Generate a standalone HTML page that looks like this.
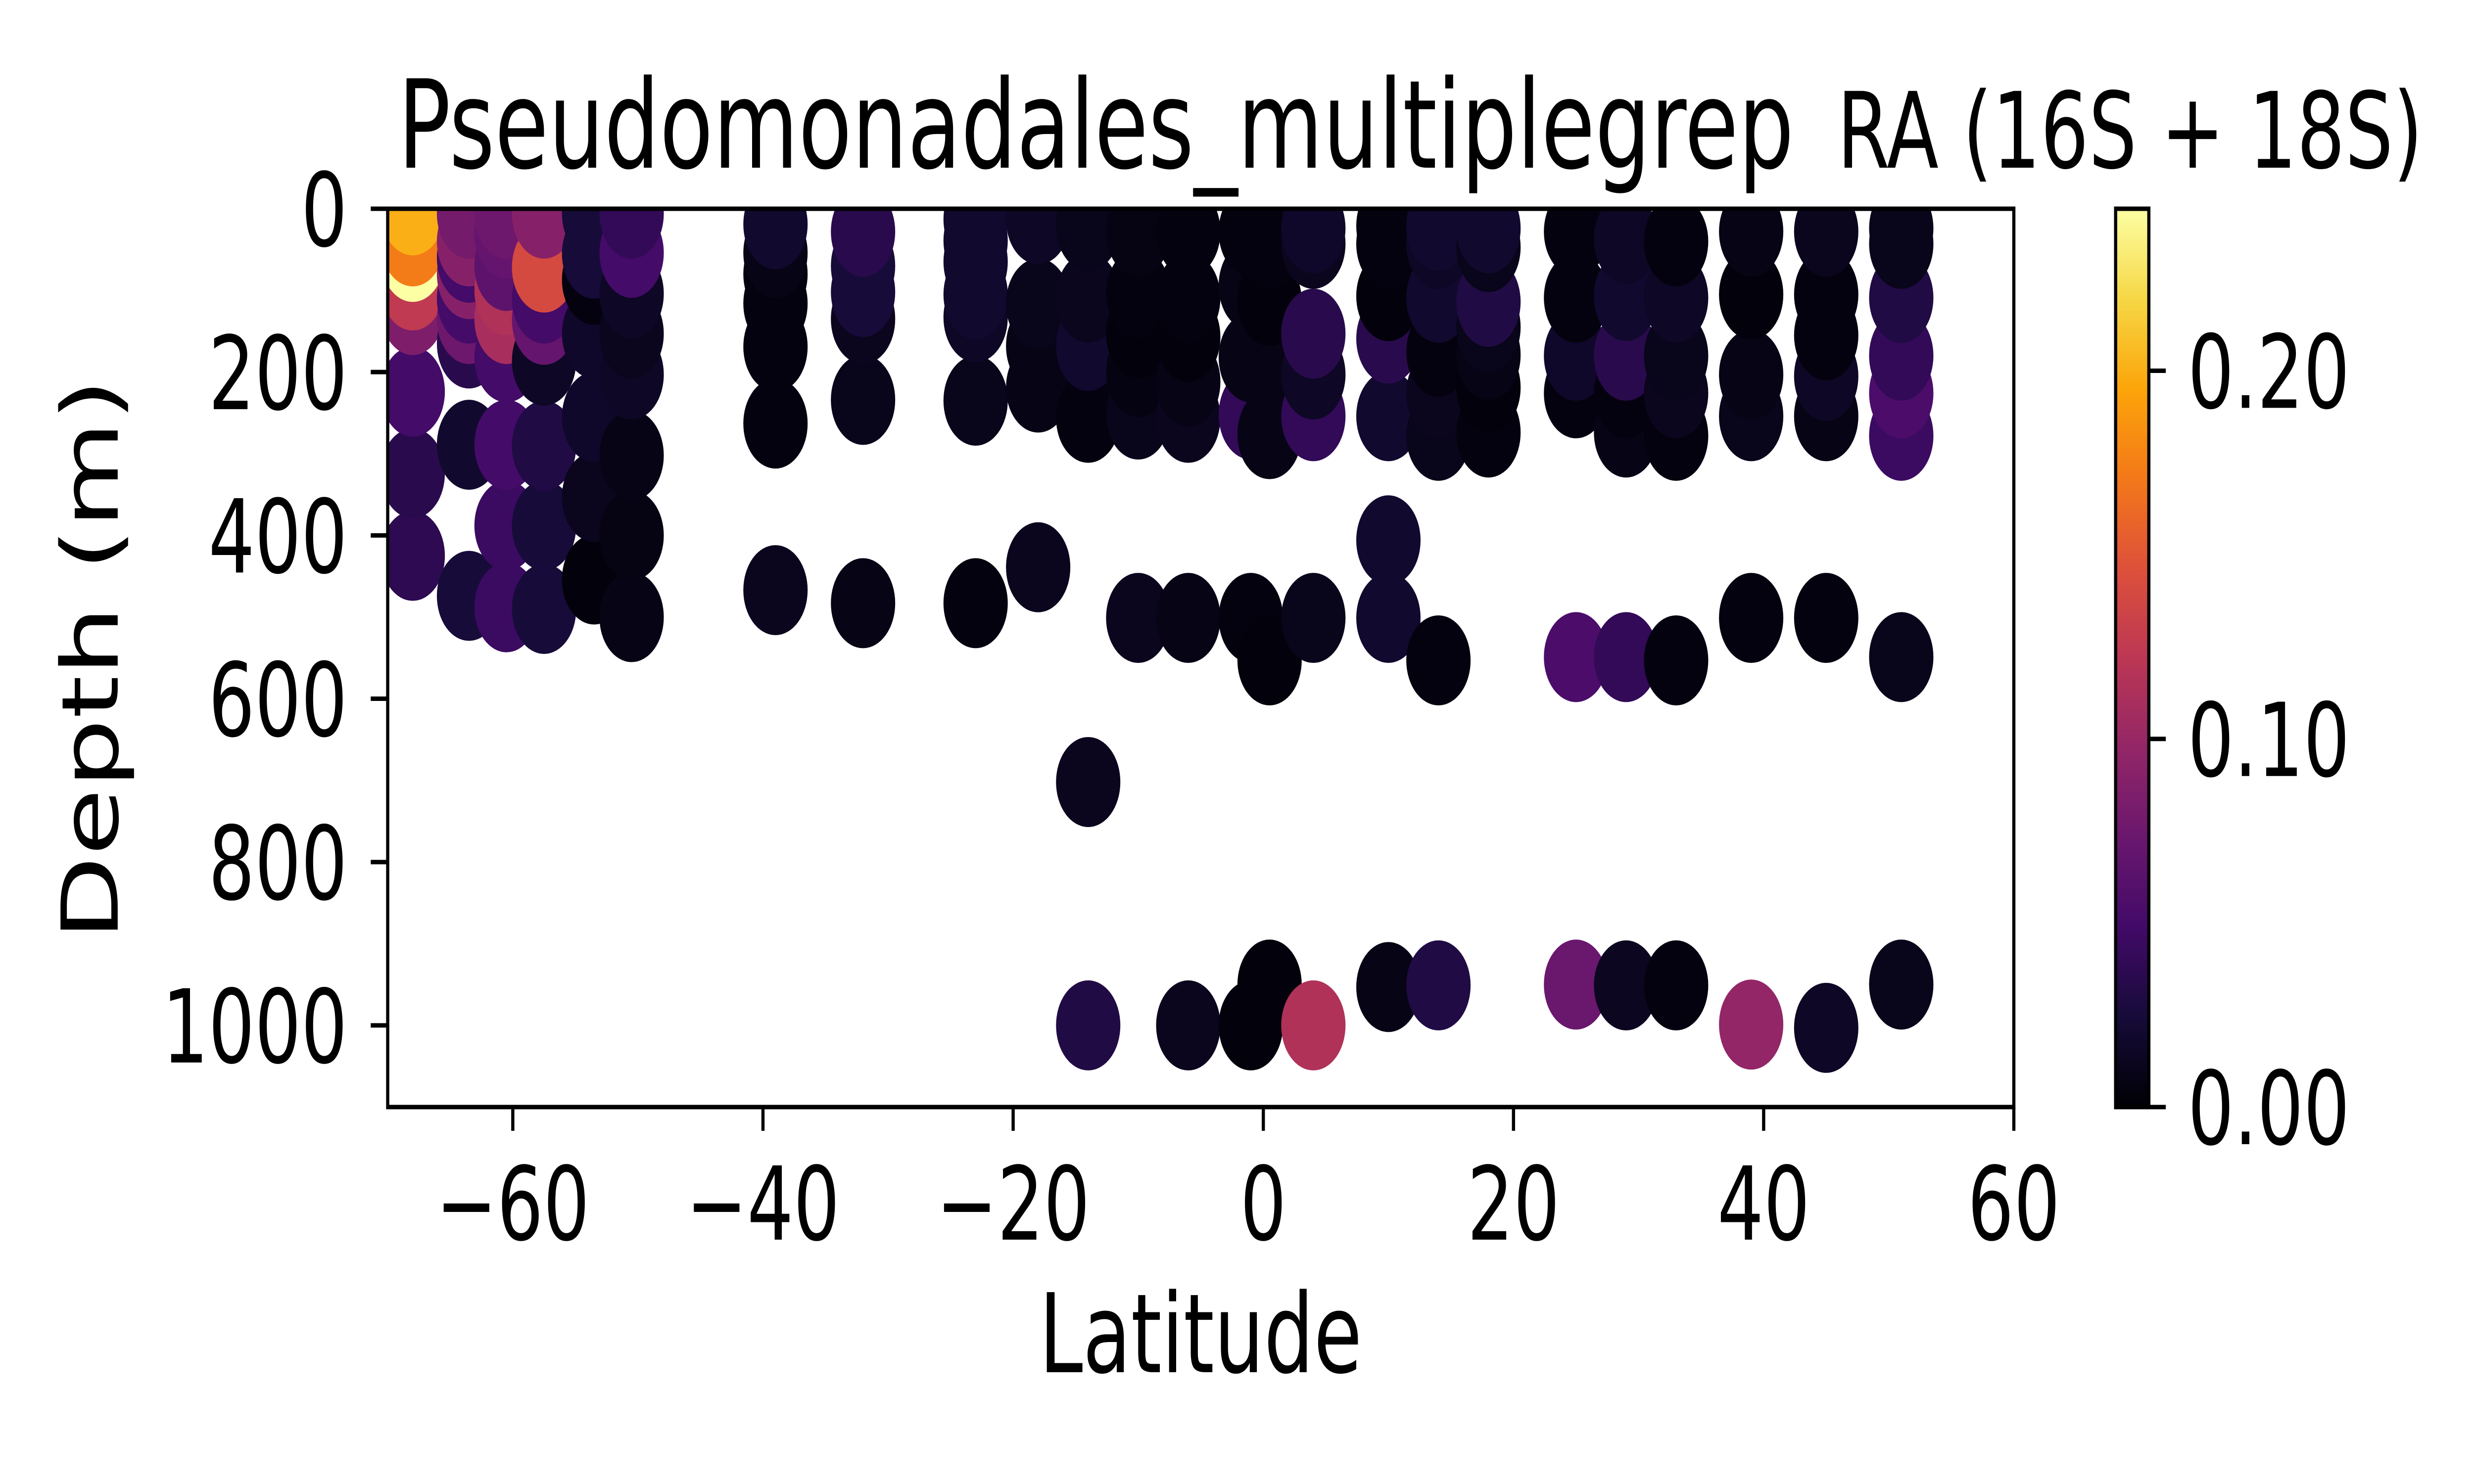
<!DOCTYPE html>
<html><head><meta charset="utf-8"><style>
html,body{margin:0;padding:0;background:#fff;width:100%;height:100%;overflow:hidden;}
svg{display:block;width:100vw;height:100vh;font-family:"DejaVu Sans","Liberation Sans",sans-serif;}
</style></head>
<body>
<svg id="chart" xmlns="http://www.w3.org/2000/svg" viewBox="0 0 7000 3000" preserveAspectRatio="none" overflow="hidden">
<rect width="7000" height="3000" fill="#fff"/>
<defs>
<linearGradient id="infernoGrad" x1="0" y1="1" x2="0" y2="0">
<stop offset="0" stop-color="#000004"/><stop offset="0.1" stop-color="#160b39"/><stop offset="0.2" stop-color="#420a68"/><stop offset="0.3" stop-color="#6a176e"/><stop offset="0.4" stop-color="#932667"/><stop offset="0.5" stop-color="#bc3754"/><stop offset="0.6" stop-color="#dd513a"/><stop offset="0.7" stop-color="#f37819"/><stop offset="0.8" stop-color="#fca50a"/><stop offset="0.9" stop-color="#f6d746"/><stop offset="1" stop-color="#fcffa4"/>
</linearGradient>
<clipPath id="plotClip"><rect x="1097" y="422" width="4601" height="1816"/></clipPath>
</defs>
<text x="1126" y="339" font-size="248" textLength="3950" lengthAdjust="spacingAndGlyphs">Pseudomonadales_multiplegrep</text>
<text x="5198" y="339" font-size="213" textLength="1657" lengthAdjust="spacingAndGlyphs">RA (16S + 18S)</text>
<g id="points" clip-path="url(#plotClip)"></g>
<rect x="1097" y="422" width="4601" height="1816" fill="none" stroke="#000" stroke-width="9"/>
<g id="xaxis"></g>
<g id="yaxis"></g>
<text x="3397" y="2774" font-size="222" text-anchor="middle">Latitude</text>
<text transform="translate(333,1333) rotate(-90)" font-size="222" text-anchor="middle">Depth (m)</text>
<rect x="5986" y="422" width="94" height="1816" fill="url(#infernoGrad)" stroke="#000" stroke-width="9"/>
<g id="cbaxis"></g>
</svg>
<script>
const lats = [-68,-68,-68,-68,-68,-68,-68,-68,
-63.5,-63.5,-63.5,-63.5,-63.5,-63.5,-63.5,-63.5,-63.5,
-60.5,-60.5,-60.5,-60.5,-60.5,-60.5,-60.5,-60.5,-60.5,
-57.5,-57.5,-57.5,-57.5,-57.5,-57.5,-57.5,-57.5,
-53.5,-53.5,-53.5,-53.5,-53.5,-53.5,-53.5,
-50.5,-50.5,-50.5,-50.5,-50.5,-50.5,-50.5,-50.5,
-39,-39,-39,-39,-39,-39,-39,
-32,-32,-32,-32,-32,-32,
-23,-23,-23,-23,-23,-23,-23,
-18,-18,-18,-18,-18,
-14,-14,-14,-14,-14,-14,
-10,-10,-10,-10,-10,-10,
-6,-6,-6,-6,-6,-6,-6,
-1,-1,-1,-1,-1,-1,
0.5,0.5,0.5,0.5,0.5,0.5,
4,4,4,4,4,4,4,
10,10,10,10,10,10,10,10,
14,14,14,14,14,14,14,14,
18,18,18,18,18,18,18,
25,25,25,25,25,25,
29,29,29,29,29,29,29,
33,33,33,33,33,33,33,
39,39,39,39,39,39,
45,45,45,45,45,45,45,
51,51,51,51,51,51,51,51];
const depths = [425,324,224,124,94,59,40,2,
474,289,165,135,110,80,60,40,6,
488,388,289,182,135,100,70,30,6,
490,388,290,186,136,110,72,6,
454,353,255,153,87,55,6,
500,400,302,203,153,104,54,6,
467,263,169,116,80,54,19,
483,234,135,102,70,28,
483,235,133,105,65,39,13,
439,219,168,116,13,
1000,702,256,168,109,21,
501,252,200,153,104,28,
1000,501,256,212,157,109,28,
1000,501,252,182,94,28,
950,553,276,182,113,43,
1000,501,254,203,153,43,24,
953,501,406,254,159,107,43,21,
951,553,278,226,175,109,43,21,
274,219,179,145,114,47,24,
950,549,226,180,109,28,
951,549,274,226,180,107,37,
951,553,278,226,180,109,40,
999,501,254,203,105,28,
1003,501,254,205,155,105,28,
950,549,278,226,180,109,43,24];
const values = [0.037,0.035,0.05,0.085,0.125,0.244,0.173,0.2,
0.025,0.02,0.035,0.075,0.05,0.09,0.05,0.09,0.08,
0.045,0.045,0.05,0.05,0.11,0.115,0.065,0.07,0.075,
0.025,0.025,0.03,0.015,0.07,0.05,0.14,0.09,
0.003,0.012,0.018,0.018,0.005,0.025,0.025,
0.008,0.007,0.008,0.015,0.012,0.015,0.05,0.04,
0.012,0.005,0.005,0.005,0.005,0.008,0.02,
0.008,0.01,0.012,0.025,0.025,0.035,
0.005,0.01,0.015,0.02,0.02,0.02,0.02,
0.012,0.008,0.008,0.01,0.015,
0.03,0.012,0.005,0.02,0.012,0.01,
0.012,0.01,0.006,0.003,0.005,0.007,
0.012,0.008,0.012,0.008,0.003,0.005,0.005,
0.003,0.005,0.04,0.008,0.008,0.005,
0.003,0.003,0.008,0.008,0.003,0.005,
0.115,0.01,0.04,0.015,0.035,0.012,0.018,
0.008,0.02,0.02,0.02,0.035,0.003,0.005,0.005,
0.03,0.005,0.01,0.012,0.005,0.02,0.015,0.02,
0.005,0.003,0.008,0.01,0.03,0.01,0.02,
0.073,0.054,0.005,0.018,0.005,0.005,
0.013,0.04,0.008,0.005,0.035,0.02,0.015,
0.005,0.005,0.005,0.012,0.01,0.015,0.005,
0.097,0.005,0.01,0.008,0.003,0.008,
0.015,0.005,0.008,0.015,0.005,0.005,0.012,
0.01,0.01,0.045,0.055,0.04,0.03,0.01,0.01];
const xTicks = [-60,-40,-20,0,20,40,60];
const yTicks = [0,200,400,600,800,1000];
const cTicks = [0,0.1,0.2];
const cTickLabels = ["0.00","0.10","0.20"];

const X0=1097,X1=5698,Y0=422,Y1=2238,XMIN=-70,XMAX=60,DMAX=1100,VMAX=0.244;
const xs = v => X0 + (v - XMIN) / (XMAX - XMIN) * (X1 - X0);
const ys = d => Y0 + d / DMAX * (Y1 - Y0);
const cs = v => Y1 - v / VMAX * (Y1 - Y0);
const stops = ["#000004","#160b39","#420a68","#6a176e","#932667","#bc3754","#dd513a","#f37819","#fca50a","#f6d746","#fcffa4"];
function hex(h){return [1,3,5].map(i=>parseInt(h.substr(i,2),16));}
function inferno(v){
  let t=Math.max(0,Math.min(1,v/VMAX))*10;
  let i=Math.min(9,Math.floor(t)),f=t-i;
  const a=hex(stops[i]),b=hex(stops[i+1]);
  return "rgb("+a.map((c,k)=>Math.round(c+(b[k]-c)*f)).join(",")+")";
}
const NS="http://www.w3.org/2000/svg";
const gp=document.getElementById("points");
for(let i=0;i<lats.length;i++){
  const c=document.createElementNS(NS,"circle");
  c.setAttribute("cx",xs(lats[i]));
  c.setAttribute("cy",ys(depths[i]));
  c.setAttribute("r",91);
  c.setAttribute("fill",inferno(values[i]));
  
  
  gp.appendChild(c);
}
const gx=document.getElementById("xaxis");
xTicks.forEach(v=>{
  const l=document.createElementNS(NS,"line");
  l.setAttribute("x1",xs(v));l.setAttribute("x2",xs(v));
  l.setAttribute("y1",Y1);l.setAttribute("y2",Y1+48);
  l.setAttribute("stroke","#000");l.setAttribute("stroke-width",9);
  
  
  gx.appendChild(l);
  const t=document.createElementNS(NS,"text");
  t.setAttribute("x",xs(v));t.setAttribute("y",2506);
  t.setAttribute("font-size",206);t.setAttribute("text-anchor","middle");
  t.textContent=(v<0?"\u2212":"")+Math.abs(v);
  
  
  gx.appendChild(t);
});
const gy=document.getElementById("yaxis");
yTicks.forEach(v=>{
  const l=document.createElementNS(NS,"line");
  l.setAttribute("x1",X0-48);l.setAttribute("x2",X0);
  l.setAttribute("y1",ys(v));l.setAttribute("y2",ys(v));
  l.setAttribute("stroke","#000");l.setAttribute("stroke-width",9);
  
  
  gy.appendChild(l);
  const t=document.createElementNS(NS,"text");
  t.setAttribute("x",983);t.setAttribute("y",ys(v)+75);
  t.setAttribute("font-size",206);t.setAttribute("text-anchor","end");
  t.textContent=String(v);
  
  
  gy.appendChild(t);
});
const gc=document.getElementById("cbaxis");
cTicks.forEach((v,i)=>{
  const l=document.createElementNS(NS,"line");
  l.setAttribute("x1",6080);l.setAttribute("x2",6128);
  l.setAttribute("y1",cs(v));l.setAttribute("y2",cs(v));
  l.setAttribute("stroke","#000");l.setAttribute("stroke-width",9);
  
  
  gc.appendChild(l);
  const t=document.createElementNS(NS,"text");
  t.setAttribute("x",6190);t.setAttribute("y",cs(v)+75);
  t.setAttribute("font-size",206);
  t.textContent=cTickLabels[i];
  
  
  gc.appendChild(t);
});
</script>
</body></html>
